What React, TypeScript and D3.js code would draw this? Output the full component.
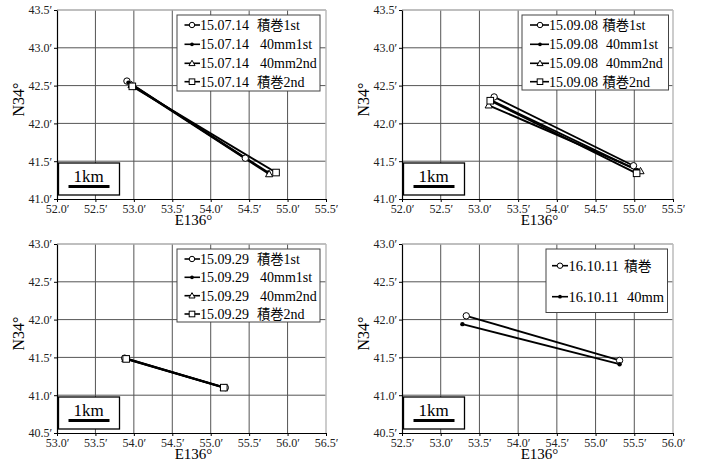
import React, { useEffect, useRef } from 'react';
import * as d3 from 'd3';

// tick labels (arc-minutes)
const xTicksA = [52.0, 52.5, 53.0, 53.5, 54.0, 54.5, 55.0, 55.5];
const xTicksC = [53.0, 53.5, 54.0, 54.5, 55.0, 55.5, 56.0, 56.5];
const xTicksD = [52.5, 53.0, 53.5, 54.0, 54.5, 55.0, 55.5, 56.0];
const yTicksTop = [41.0, 41.5, 42.0, 42.5, 43.0, 43.5];
const yTicksBottom = [40.5, 41.0, 41.5, 42.0, 42.5, 43.0];

// series names / markers
const names4 = ['積巻1st', '40mm1st', '40mm2nd', '積巻2nd'];
const markers4 = ['circle', 'dot', 'triangle', 'square'];
const names2 = ['積巻', '40mm'];
const markers2 = ['circle', 'dot'];

// tracks: [start, end] as [E136° min, N34° min]
const jul14 = [
  [[52.91, 42.56], [54.45, 41.54]],
  [[52.93, 42.54], [54.75, 41.35]],
  [[52.97, 42.51], [54.76, 41.33]],
  [[52.98, 42.49], [54.85, 41.35]],
];
const sep08 = [
  [[53.19, 42.35], [54.99, 41.44]],
  [[53.14, 42.31], [55.04, 41.38]],
  [[53.12, 42.24], [55.08, 41.37]],
  [[53.14, 42.30], [55.03, 41.34]],
];
const sep29 = [
  [[53.88, 41.49], [55.19, 41.10]],
  [[53.89, 41.49], [55.18, 41.10]],
  [[53.89, 41.48], [55.17, 41.10]],
  [[53.90, 41.48], [55.17, 41.10]],
];
const oct11 = [
  [[53.33, 42.05], [55.31, 41.46]],
  [[53.28, 41.94], [55.31, 41.41]],
];

const FONT = 'Liberation Serif';
const CJK = 'Noto Sans CJK JP';

const drawMarker = (g, type, x, y, s) => {
  if (type === 'circle') {
    g.append('circle').attr('cx', x).attr('cy', y).attr('r', 3.2 * s)
      .attr('fill', '#fff').attr('stroke', '#000').attr('stroke-width', 1);
  } else if (type === 'dot') {
    g.append('circle').attr('cx', x).attr('cy', y).attr('r', 2.2 * s).attr('fill', '#000');
  } else if (type === 'triangle') {
    const h = 3.6 * s;
    g.append('path')
      .attr('d', `M${x},${y - h}L${x + h},${y + h * 0.75}L${x - h},${y + h * 0.75}Z`)
      .attr('fill', '#fff').attr('stroke', '#000').attr('stroke-width', 1);
  } else {
    const h = 3.3 * s;
    g.append('rect').attr('x', x - h).attr('y', y - h).attr('width', 2 * h).attr('height', 2 * h)
      .attr('fill', '#fff').attr('stroke', '#000').attr('stroke-width', 1);
  }
};

const drawPanel = (svg, opt) => {
  const { left, top, width, height, xTicks, yTicks, tracks, names, markers, date, legend } = opt;
  const g = svg.append('g');
  const x = d3.scaleLinear().domain(d3.extent(xTicks)).range([left, left + width]);
  const y = d3.scaleLinear().domain(d3.extent(yTicks)).range([top + height, top]);

  // grid
  g.selectAll('.vg').data(xTicks.slice(1, -1)).join('line')
    .attr('x1', (d) => x(d)).attr('x2', (d) => x(d)).attr('y1', top).attr('y2', top + height)
    .attr('stroke', '#555').attr('stroke-width', 1);
  g.selectAll('.hg').data(yTicks.slice(1, -1)).join('line')
    .attr('y1', (d) => y(d)).attr('y2', (d) => y(d)).attr('x1', left).attr('x2', left + width)
    .attr('stroke', '#555').attr('stroke-width', 1);
  // top & right frame
  g.append('line').attr('x1', left).attr('x2', left + width).attr('y1', top).attr('y2', top)
    .attr('stroke', '#aaa').attr('stroke-width', 1.5);
  g.append('line').attr('x1', left + width).attr('x2', left + width).attr('y1', top).attr('y2', top + height)
    .attr('stroke', '#bbb').attr('stroke-width', 1.5);

  // axes
  const fmt = (d) => `${d.toFixed(1)}′`;
  const ax = g.append('g').attr('transform', `translate(0,${top + height})`)
    .call(d3.axisBottom(x).tickValues(xTicks).tickFormat(fmt).tickSizeInner(3).tickSizeOuter(0).tickPadding(2));
  const ay = g.append('g').attr('transform', `translate(${left},0)`)
    .call(d3.axisLeft(y).tickValues(yTicks).tickFormat(fmt).tickSizeInner(3).tickSizeOuter(0).tickPadding(2));
  [ax, ay].forEach((a) => {
    a.attr('font-family', FONT);
    a.select('.domain').attr('stroke', '#000').attr('stroke-width', 1.2);
    a.selectAll('.tick line').attr('stroke', '#000');
    a.selectAll('.tick text').attr('font-family', FONT).attr('font-size', 12).attr('fill', '#222');
  });

  // axis titles
  g.append('text').attr('x', left + width / 2 + 2).attr('y', top + height + 26)
    .attr('text-anchor', 'middle').attr('font-family', FONT).attr('font-size', 15).text('E136°');
  g.append('text')
    .attr('transform', `translate(${left - 33},${top + height / 2 - 5}) rotate(-90)`)
    .attr('text-anchor', 'middle').attr('font-family', FONT).attr('font-size', 16).text('N34°');

  // tracks
  const line = d3.line().x((d) => x(d[0])).y((d) => y(d[1]));
  tracks.forEach((t) => {
    g.append('path').datum(t).attr('d', line).attr('fill', 'none')
      .attr('stroke', '#000').attr('stroke-width', 1.9);
  });
  tracks.forEach((t, i) => {
    t.forEach((p) => drawMarker(g, markers[i], x(p[0]), y(p[1]), 1));
  });

  // scale box
  const bx = left + 1.5;
  const by = top + height - 36;
  g.append('rect').attr('x', bx).attr('y', by).attr('width', 61).attr('height', 32)
    .attr('fill', '#fff').attr('stroke', '#000').attr('stroke-width', 1.3);
  g.append('text').attr('x', bx + 30).attr('y', by + 19).attr('text-anchor', 'middle')
    .attr('font-family', FONT).attr('font-size', 17).text('1km');
  g.append('rect').attr('x', bx + 10).attr('y', by + 22).attr('width', 41).attr('height', 3).attr('fill', '#000');

  // legend
  const { lx, ly, lw, lh, rows, fs, dateX, nameX, mmX, sx } = legend;
  const lg = g.append('g');
  lg.append('rect').attr('x', lx).attr('y', ly).attr('width', lw).attr('height', lh)
    .attr('fill', '#fff').attr('stroke', '#444').attr('stroke-width', 1);
  names.forEach((n, i) => {
    const cy = ly + rows[i];
    lg.append('line').attr('x1', lx + sx[0]).attr('x2', lx + sx[2]).attr('y1', cy).attr('y2', cy)
      .attr('stroke', '#000').attr('stroke-width', 1.6);
    drawMarker(lg, markers[i], lx + sx[1], cy, 0.85);
    lg.append('text').attr('x', lx + dateX).attr('y', cy + fs * 0.35)
      .attr('font-family', FONT).attr('font-size', fs).text(date);
    const t = lg.append('text').attr('x', lx + (n.startsWith('40') ? mmX : nameX)).attr('y', cy + fs * 0.35)
      .attr('font-family', FONT).attr('font-size', fs);
    if (n.startsWith('積巻')) {
      t.append('tspan').attr('font-family', CJK).attr('font-size', fs * 0.95).text('積巻');
      t.append('tspan').text(n.slice(2));
    } else {
      t.text(n);
    }
  });
};

const App = () => {
  const svgRef = useRef();

  useEffect(() => {
    const svg = d3.select(svgRef.current);
    svg.selectAll('*').remove();

    drawPanel(svg, {
      left: 57, top: 10, width: 269, height: 189, xTicks: xTicksA, yTicks: yTicksTop,
      tracks: jul14, names: names4, markers: markers4, date: '15.07.14',
      legend: { lx: 177, ly: 15, lw: 143, lh: 76, rows: [10, 29.3, 48.3, 66.7], fs: 14,
        dateX: 23, nameX: 80, mmX: 83, sx: [7.5, 15, 23] },
    });
    drawPanel(svg, {
      left: 402, top: 10, width: 271, height: 189, xTicks: xTicksA, yTicks: yTicksTop,
      tracks: sep08, names: names4, markers: markers4, date: '15.09.08',
      legend: { lx: 522, ly: 15, lw: 146.5, lh: 75, rows: [10, 29.3, 48.3, 66.7], fs: 14,
        dateX: 27, nameX: 80.5, mmX: 84, sx: [8, 18, 27] },
    });
    drawPanel(svg, {
      left: 57, top: 244, width: 269, height: 189, xTicks: xTicksC, yTicks: yTicksBottom,
      tracks: sep29, names: names4, markers: markers4, date: '15.09.29',
      legend: { lx: 177, ly: 249, lw: 143, lh: 73, rows: [10, 28.3, 46.7, 65], fs: 14,
        dateX: 23, nameX: 80, mmX: 83, sx: [7.5, 15, 23] },
    });
    drawPanel(svg, {
      left: 402, top: 244, width: 271, height: 189, xTicks: xTicksD, yTicks: yTicksBottom,
      tracks: oct11, names: names2, markers: markers2, date: '16.10.11',
      legend: { lx: 546, ly: 249, lw: 121.5, lh: 63.5, rows: [16.7, 47.7], fs: 14.5,
        dateX: 22.5, nameX: 78, mmX: 81, sx: [6, 14, 22] },
    });
  }, []);

  return (
    <svg
      ref={svgRef}
      width={701}
      height={468}
      style={{ position: 'absolute', left: 0, top: 0, background: '#fff' }}
    />
  );
};

export default App;
